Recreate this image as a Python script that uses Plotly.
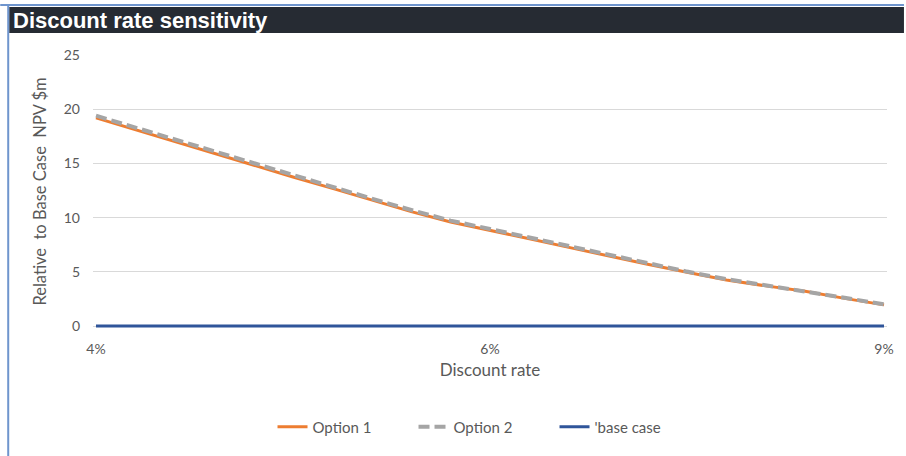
import plotly.graph_objects as go

# Discount-rate sensitivity: NPV relative to the base case ($m)
rate_steps = list(range(21))
tick_positions = [0, 10, 20]
tick_labels = ["4%", "6%", "9%"]

option_1 = [19.2, 18.1, 17.05, 15.95, 14.85, 13.75, 12.7, 11.6, 10.55, 9.6, 8.85,
            8.05, 7.25, 6.45, 5.7, 4.95, 4.25, 3.7, 3.2, 2.55, 1.95]
option_2 = [19.4, 18.3, 17.2, 16.1, 15.0, 13.9, 12.85, 11.75, 10.7, 9.72, 8.95,
            8.15, 7.35, 6.55, 5.78, 5.02, 4.32, 3.76, 3.25, 2.6, 2.0]
base_case = [0, 0, 0, 0, 0, 0, 0, 0, 0, 0, 0, 0, 0, 0, 0, 0, 0, 0, 0, 0, 0]

W, H = 906, 456
ML, MR, MT, MB = 93, 17, 54, 127
PW, PH = W - ML - MR, H - MT - MB


def px_x(p):
    return (p - ML) / PW


def px_y(p):
    return (H - MB - p) / PH


FONT = "Lato"
GREY_TXT = "#595959"

fig = go.Figure()
fig.add_trace(go.Scatter(x=rate_steps, y=option_1, name="Option 1", mode="lines",
                         line=dict(color="#ed7d31", width=3)))
fig.add_trace(go.Scatter(x=rate_steps, y=option_2, name="Option 2", mode="lines",
                         line=dict(color="#a5a5a5", width=4, dash="11px,5px")))
fig.add_trace(go.Scatter(x=rate_steps, y=base_case, name="'base case", mode="lines",
                         line=dict(color="#2f559a", width=3)))

shapes = [
    # header bar
    dict(type="rect", xref="paper", yref="paper",
         x0=px_x(9), x1=px_x(W), y0=px_y(33), y1=px_y(7),
         fillcolor="#262b33", line=dict(width=0), layer="below"),
    # frame edges
    dict(type="line", xref="paper", yref="paper",
         x0=px_x(0), x1=px_x(W), y0=px_y(5), y1=px_y(5),
         line=dict(color="#6f95cd", width=2)),
    dict(type="line", xref="paper", yref="paper",
         x0=px_x(8), x1=px_x(8), y0=px_y(5), y1=px_y(H),
         line=dict(color="#6f95cd", width=2)),
]

fig.update_layout(
    width=W, height=H,
    margin=dict(l=ML, r=MR, t=MT, b=MB),
    paper_bgcolor="white", plot_bgcolor="white",
    shapes=shapes,
    title=dict(text="<b>Discount rate sensitivity</b>", xref="container", yref="container",
               x=13 / W, xanchor="left", y=1 - 20 / H, yanchor="middle",
               font=dict(family="Liberation Sans", size=22, color="white")),
    xaxis=dict(range=[-3 / 39.5, 20 + 3 / 39.5], tickvals=tick_positions, ticktext=tick_labels,
               showgrid=False, zeroline=False, showline=False, ticks="",
               ticklabelstandoff=10,
               tickfont=dict(family=FONT, size=14, color=GREY_TXT),
               title=dict(text="Discount rate", standoff=8,
                          font=dict(family=FONT, size=17, color=GREY_TXT))),
    yaxis=dict(range=[-3 / 10.84, 25 + 1 / 10.84], tickvals=[0, 5, 10, 15, 20, 25],
               showgrid=True, gridcolor="#d9d9d9", gridwidth=1, zeroline=False,
               showline=False, ticks="", ticklabelstandoff=12,
               tickfont=dict(family=FONT, size=14, color=GREY_TXT),
               title=dict(text="Relative\u00a0 to Base Case\u00a0 NPV $m", standoff=12,
                          font=dict(family=FONT, size=16.5, color=GREY_TXT))),
    legend=dict(orientation="h", xanchor="center", x=px_x(485), yanchor="middle",
                y=px_y(427), font=dict(family=FONT, size=15, color=GREY_TXT),
                entrywidth=96, entrywidthmode="pixels",
                bgcolor="rgba(0,0,0,0)"),
    showlegend=True,
)

fig.write_html("out.html")
